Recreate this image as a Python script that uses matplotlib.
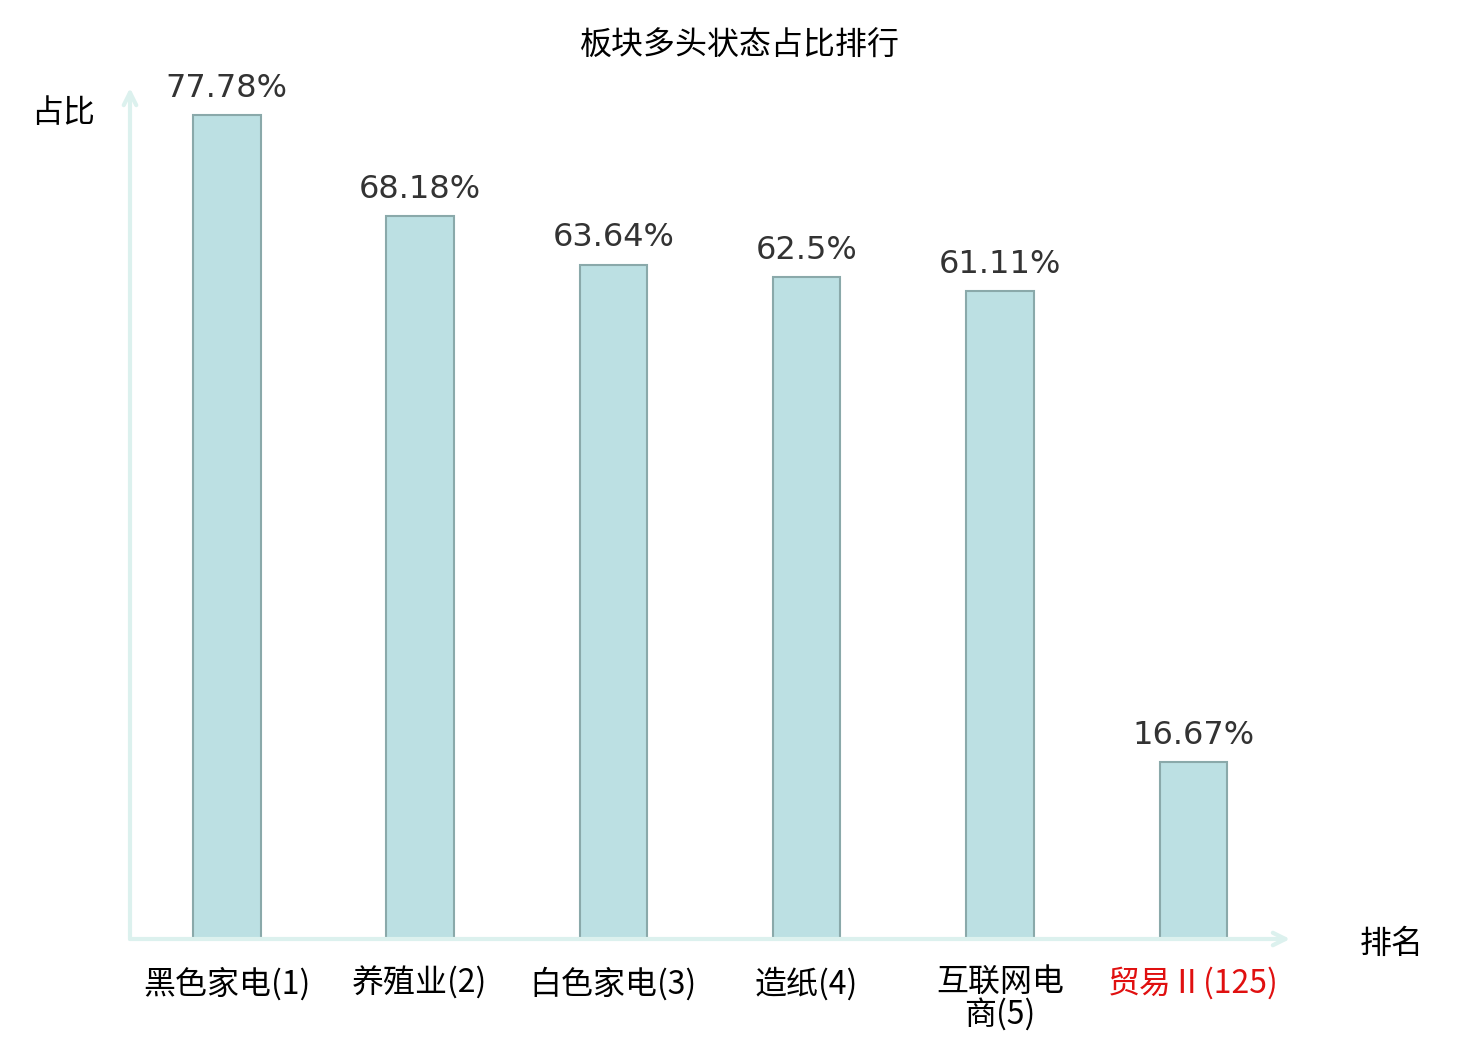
import matplotlib

matplotlib.use("Agg")

import matplotlib.pyplot as plt
import numpy as np

plt.rcParams["font.family"] = ["Noto Sans CJK SC", "DejaVu Sans"]

# sector names with rank, bullish share (%)
sectors = ["黑色家电(1)", "养殖业(2)", "白色家电(3)", "造纸(4)", "互联网电\n商(5)", "贸易Ⅱ(125)"]
shares = [77.78, 68.18, 63.64, 62.5, 61.11, 16.67]
share_labels = ["77.78%", "68.18%", "63.64%", "62.5%", "61.11%", "16.67%"]
highlight = 5  # the sector being tracked, drawn in red

AXIS_C = "#dcf1ee"
FS = 23

fig = plt.figure(figsize=(14.8, 10.4), dpi=100)
ax = fig.add_axes([130 / 1480, 101 / 1040, 1160 / 1480, 851 / 1040])

x = np.arange(len(sectors))
bars = ax.bar(x, shares, width=0.35, color="#bce0e3", edgecolor="#8aa9aa", lw=1.5)

for b, lab in zip(bars, share_labels):
    ax.annotate(lab, (b.get_x() + b.get_width() / 2, b.get_height()),
                xytext=(0, 8), textcoords="offset points", ha="center",
                va="bottom", fontsize=FS, color="#333333", family="DejaVu Sans")

ax.set_xlim(-0.5, 5.5)
ax.set_ylim(0, 80.3)
ax.set_yticks([])
ax.set_xticks(x)
ax.set_xticklabels(sectors, fontsize=FS, linespacing=0.95)
ax.tick_params(axis="x", length=0, pad=20)
ax.get_xticklabels()[highlight].set_color("#e01010")

for s in ("top", "right", "left", "bottom"):
    ax.spines[s].set_visible(False)

# axis lines with open arrow heads
ax.annotate("", xy=(0, 1), xytext=(0, 0), xycoords="axes fraction",
            arrowprops=dict(arrowstyle="->,head_length=0.9,head_width=0.45",
                            color=AXIS_C, lw=3, shrinkA=0, shrinkB=0))
ax.annotate("", xy=(1, 0), xytext=(0, 0), xycoords="axes fraction",
            arrowprops=dict(arrowstyle="->,head_length=0.9,head_width=0.45",
                            color=AXIS_C, lw=3, shrinkA=0, shrinkB=0))

fig.text(63 / 1480, 1 - 113 / 1040, "占比", fontsize=FS, ha="center", va="center")
fig.text(1392 / 1480, 1 - 944 / 1040, "排名", fontsize=FS, ha="center", va="center")
fig.text(740 / 1480, 1 - 46 / 1040, "板块多头状态占比排行", fontsize=FS,
         ha="center", va="center")

fig.savefig("out.png", dpi=100)
